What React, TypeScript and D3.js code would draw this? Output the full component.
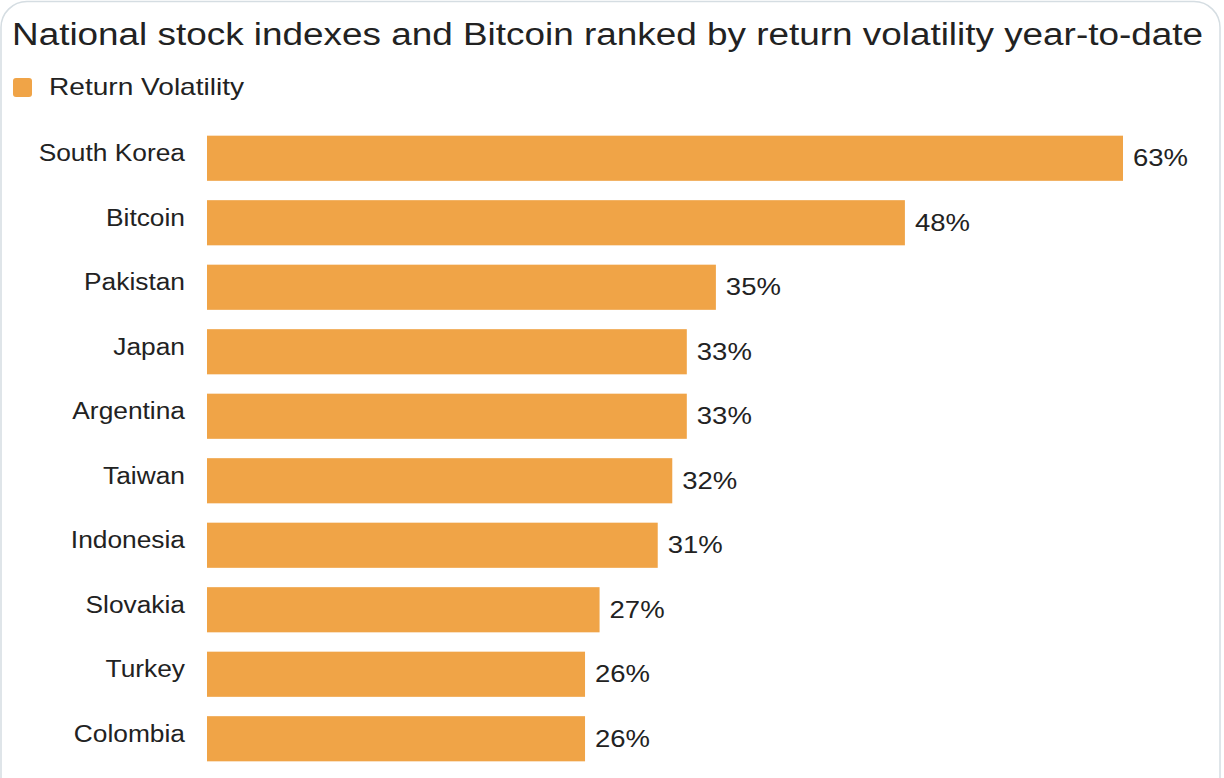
import React, { useEffect, useRef } from "react";
import * as d3 from "d3";

const categories = [
  "South Korea",
  "Bitcoin",
  "Pakistan",
  "Japan",
  "Argentina",
  "Taiwan",
  "Indonesia",
  "Slovakia",
  "Turkey",
  "Colombia",
];
const volatility = [63, 48, 35, 33, 33, 32, 31, 27, 26, 26];
const seriesName = "Return Volatility";
const title = "National stock indexes and Bitcoin ranked by return volatility year-to-date";

export default function App() {
  const svgRef = useRef<SVGSVGElement | null>(null);

  useEffect(() => {
    const width = 1224;
    const height = 778;
    const font = "'Liberation Sans', Arial, Helvetica, sans-serif";
    const barColor = "#f0a447";
    const textColor = "#222";

    const svg = d3.select(svgRef.current);
    svg.selectAll("*").remove();
    svg.attr("width", width).attr("height", height).attr("viewBox", `0 0 ${width} ${height}`);

    // card frame
    svg
      .append("rect")
      .attr("x", 1)
      .attr("y", 1.5)
      .attr("width", 1219)
      .attr("height", height + 40)
      .attr("rx", 26)
      .attr("fill", "#fff")
      .attr("stroke", "#d5dde2")
      .attr("stroke-width", 1.5);

    // title
    svg
      .append("text")
      .attr("x", 12)
      .attr("y", 45)
      .attr("font-family", font)
      .attr("font-size", 31)
      .attr("fill", textColor)
      .attr("textLength", 1191)
      .attr("lengthAdjust", "spacingAndGlyphs")
      .text(title);

    // legend
    svg
      .append("rect")
      .attr("x", 13)
      .attr("y", 78)
      .attr("width", 19)
      .attr("height", 19)
      .attr("rx", 3)
      .attr("fill", barColor);
    svg
      .append("text")
      .attr("class", "wide")
      .attr("data-stretch", 1.17)
      .attr("x", 49)
      .attr("y", 95)
      .attr("font-family", font)
      .attr("font-size", 24)
      .attr("fill", textColor)
      .text(seriesName);

    const margin = { top: 126, left: 207, bottom: 7 };
    const x = d3.scaleLinear().domain([0, 63]).range([margin.left, 1123]);
    const y = d3
      .scaleBand()
      .domain(categories)
      .range([margin.top, height - margin.bottom])
      .paddingInner(0.3)
      .paddingOuter(0.15);

    const data = categories.map((c, i) => ({ name: c, value: volatility[i] }));

    const g = svg.append("g");

    g.selectAll("rect.bar")
      .data(data)
      .enter()
      .append("rect")
      .attr("class", "bar")
      .attr("x", x(0))
      .attr("y", d => y(d.name) as number)
      .attr("width", d => x(d.value) - x(0))
      .attr("height", y.bandwidth())
      .attr("fill", barColor);

    // category labels
    g.selectAll("text.cat")
      .data(data)
      .enter()
      .append("text")
      .attr("class", "cat wide")
      .attr("data-stretch", 1.12)
      .attr("x", 185)
      .attr("y", d => (y(d.name) as number) + y.bandwidth() / 2 - 5)
      .attr("dy", "0.35em")
      .attr("text-anchor", "end")
      .attr("font-family", font)
      .attr("font-size", 23.5)
      .attr("fill", textColor)
      .text(d => d.name);

    // value labels
    g.selectAll("text.val")
      .data(data)
      .enter()
      .append("text")
      .attr("class", "val wide")
      .attr("data-stretch", 1.17)
      .attr("x", d => x(d.value) + 10)
      .attr("y", d => (y(d.name) as number) + y.bandwidth() / 2)
      .attr("dy", "0.35em")
      .attr("font-family", font)
      .attr("font-size", 23.5)
      .attr("fill", textColor)
      .text(d => `${d.value}%`);

    // widen the glyphs to match the source lettering
    svg.selectAll<SVGTextElement, unknown>("text.wide").each(function () {
      const k = +(this.getAttribute("data-stretch") || 1);
      const len = this.getComputedTextLength();
      d3.select(this)
        .attr("textLength", len * k)
        .attr("lengthAdjust", "spacingAndGlyphs");
    });
  }, []);

  return (
    <div style={{ position: "absolute", left: 0, top: 0, width: 1224, height: 778, background: "#fff" }}>
      <svg ref={svgRef} style={{ display: "block" }}></svg>
    </div>
  );
}
